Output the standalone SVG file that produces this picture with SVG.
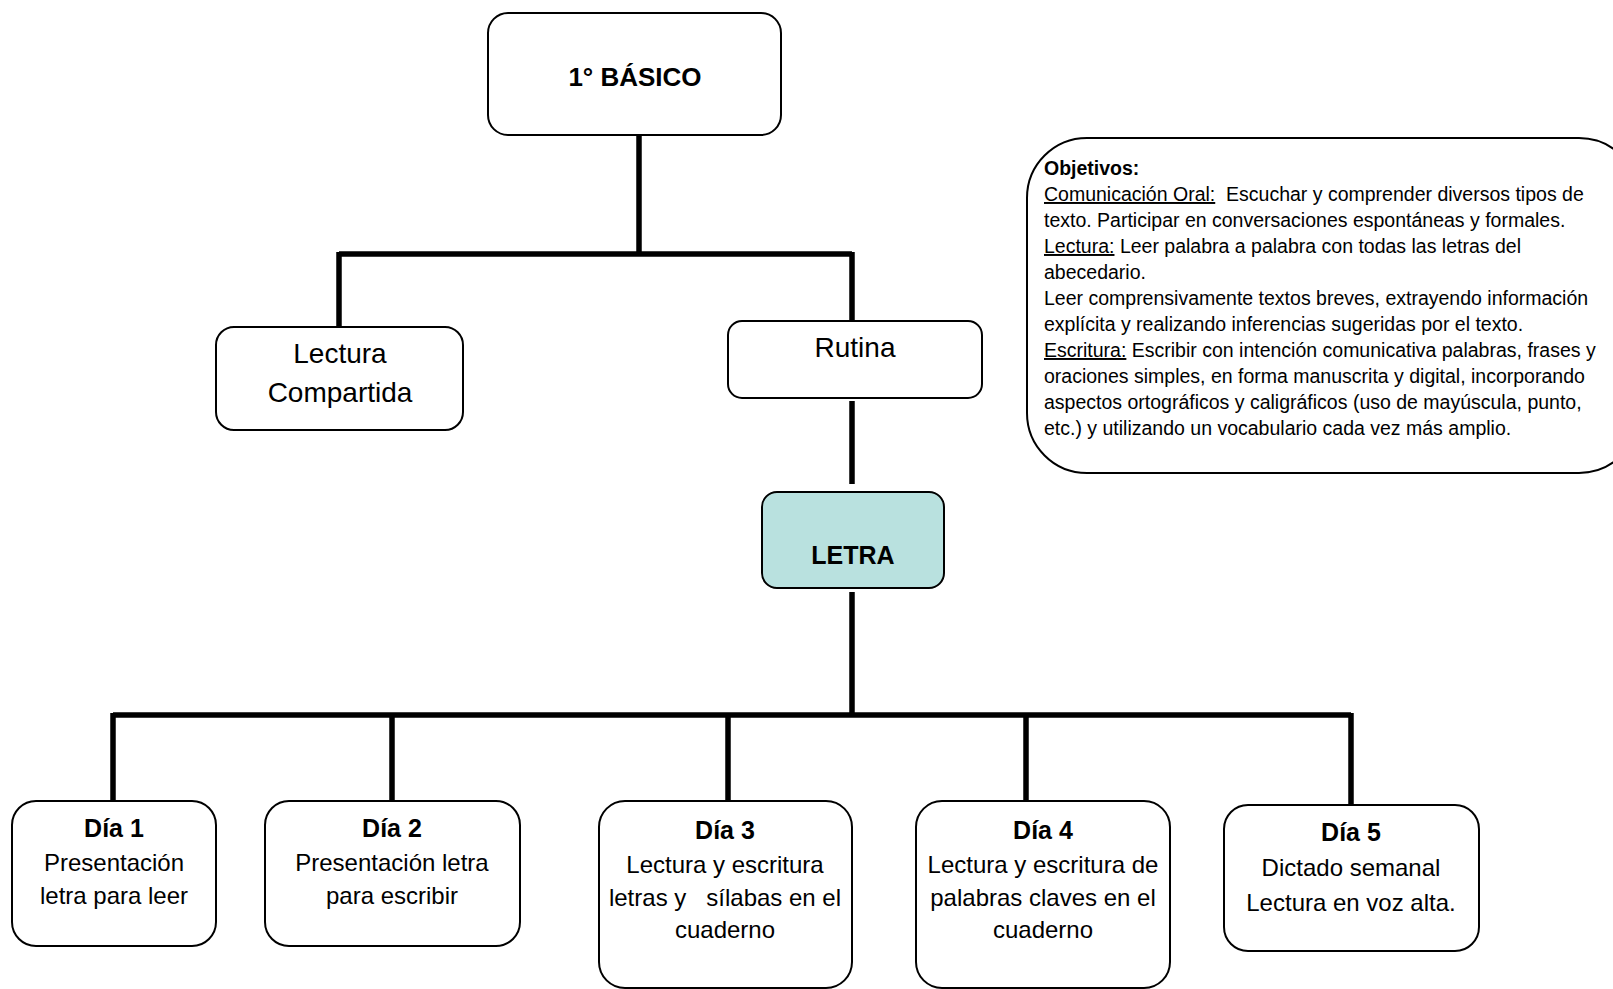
<svg xmlns="http://www.w3.org/2000/svg" width="1613" height="989" viewBox="0 0 1613 989">
<style>
.box{fill:#fff;stroke:#000;stroke-width:2}
.teal{fill:#b9e1df;stroke:#000;stroke-width:2}
.conn{stroke:#000;stroke-width:5.5;fill:none}
text{font-family:"Liberation Sans",Arial,sans-serif;fill:#000}
.c{text-anchor:middle}
.b{font-weight:bold}
.t24{font-size:24px}
.t28{font-size:28px}
.obj{font-size:19.5px;white-space:pre}
.u{text-decoration:underline}
</style>
<rect width="1613" height="989" fill="#fff"/>
<g id="connectors">
<path class="conn" d="M639,135 V254 M339,254 H852 M339,252 V327 M852,252 V321"/>
<path class="conn" d="M852,401 V484"/>
<path class="conn" d="M852,592 V717 M113,715 H1351 M113,713 V801 M392,713 V801 M728,713 V801 M1026,713 V801 M1351,713 V805"/>
</g>
<g id="node-basico">
<rect class="box" x="488" y="13" width="293" height="122" rx="20"/>
<text class="c b" x="635" y="86" font-size="26">1° BÁSICO</text>
</g>
<g id="node-lectura">
<rect class="box" x="216" y="327" width="247" height="103" rx="18"/>
<text class="c t28" x="340" y="363">Lectura</text>
<text class="c t28" x="340" y="402">Compartida</text>
</g>
<g id="node-rutina">
<rect class="box" x="728" y="321" width="254" height="77" rx="14"/>
<text class="c t28" x="855" y="357">Rutina</text>
</g>
<g id="node-letra">
<rect class="teal" x="762" y="492" width="182" height="96" rx="15"/>
<text class="c b" x="853" y="564" font-size="25">LETRA</text>
</g>
<g id="node-objetivos">
<rect class="box" x="1027" y="138" width="612" height="335" rx="60"/>
<text class="obj" x="1044" y="175"><tspan class="b">Objetivos:</tspan></text>
<text class="obj" x="1044" y="201"><tspan class="u">Comunicación Oral:</tspan>  Escuchar y comprender diversos tipos de</text>
<text class="obj" x="1044" y="227">texto. Participar en conversaciones espontáneas y formales.</text>
<text class="obj" x="1044" y="253"><tspan class="u">Lectura:</tspan> Leer palabra a palabra con todas las letras del</text>
<text class="obj" x="1044" y="279">abecedario.</text>
<text class="obj" x="1044" y="305">Leer comprensivamente textos breves, extrayendo información</text>
<text class="obj" x="1044" y="331">explícita y realizando inferencias sugeridas por el texto.</text>
<text class="obj" x="1044" y="357"><tspan class="u">Escritura:</tspan> Escribir con intención comunicativa palabras, frases y</text>
<text class="obj" x="1044" y="383">oraciones simples, en forma manuscrita y digital, incorporando</text>
<text class="obj" x="1044" y="409">aspectos ortográficos y caligráficos (uso de mayúscula, punto,</text>
<text class="obj" x="1044" y="435">etc.) y utilizando un vocabulario cada vez más amplio.</text>
</g>
<g id="node-dia1">
<rect class="box" x="12" y="801" width="204" height="145" rx="24"/>
<text class="c b" x="114" y="837" font-size="25">Día 1</text>
<text class="c t24" x="114" y="871">Presentación</text>
<text class="c t24" x="114" y="904">letra para leer</text>
</g>
<g id="node-dia2">
<rect class="box" x="265" y="801" width="255" height="145" rx="24"/>
<text class="c b" x="392" y="837" font-size="25">Día 2</text>
<text class="c t24" x="392" y="871">Presentación letra</text>
<text class="c t24" x="392" y="904">para escribir</text>
</g>
<g id="node-dia3">
<rect class="box" x="599" y="801" width="253" height="187" rx="26"/>
<text class="c b" x="725" y="839" font-size="25">Día 3</text>
<text class="c t24" x="725" y="873">Lectura y escritura</text>
<text class="c t24" x="725" y="906" style="white-space:pre">letras y   sílabas en el</text>
<text class="c t24" x="725" y="938">cuaderno</text>
</g>
<g id="node-dia4">
<rect class="box" x="916" y="801" width="254" height="187" rx="26"/>
<text class="c b" x="1043" y="839" font-size="25">Día 4</text>
<text class="c t24" x="1043" y="873">Lectura y escritura de</text>
<text class="c t24" x="1043" y="906">palabras claves en el</text>
<text class="c t24" x="1043" y="938">cuaderno</text>
</g>
<g id="node-dia5">
<rect class="box" x="1224" y="805" width="255" height="146" rx="24"/>
<text class="c b" x="1351" y="841" font-size="25">Día 5</text>
<text class="c t24" x="1351" y="876">Dictado semanal</text>
<text class="c t24" x="1351" y="911">Lectura en voz alta.</text>
</g>
</svg>
